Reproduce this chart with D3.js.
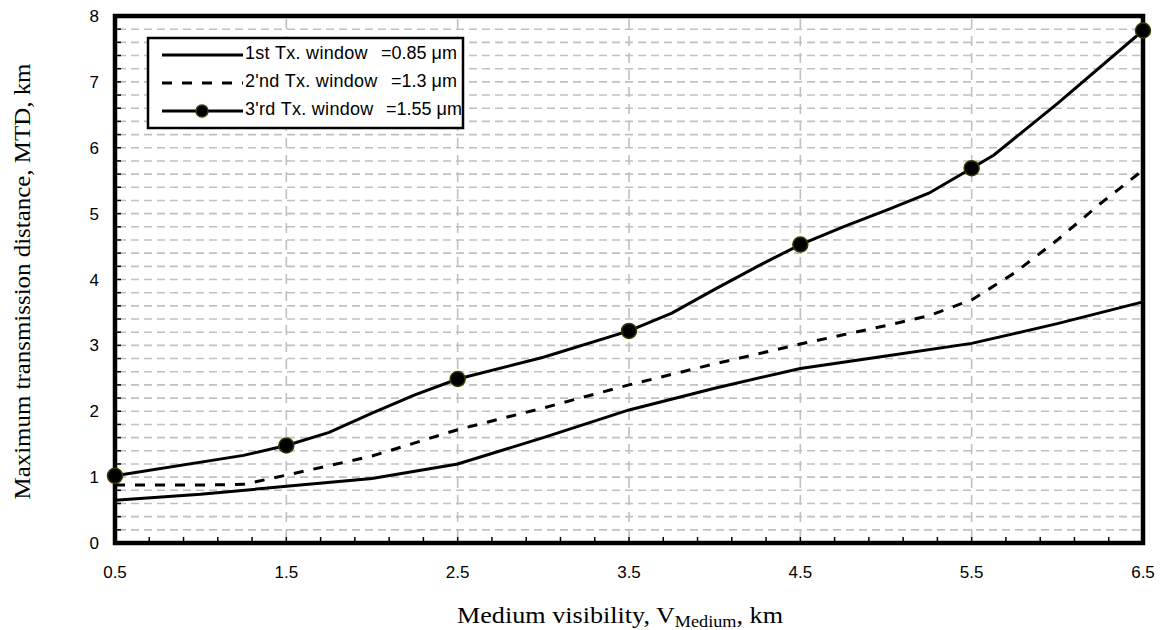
<!DOCTYPE html>
<html>
<head>
<meta charset="utf-8">
<script src="https://cdn.jsdelivr.net/npm/d3@7"></script>
<style>
  body { margin: 0; background: #fff; }
  svg { display: block; }
</style>
</head>
<body>
<svg id="chart" width="1160" height="630"></svg>
<script>
// ---- data ----
let xTicks = [0.5, 1.5, 2.5, 3.5, 4.5, 5.5, 6.5];
let yTicks = [0, 1, 2, 3, 4, 5, 6, 7, 8];

let x1 = [0.5, 1, 1.5, 2, 2.5, 3, 3.5, 4, 4.5, 5, 5.5, 6, 6.5];
let y1 = [0.65, 0.74, 0.86, 0.98, 1.2, 1.6, 2.02, 2.35, 2.65, 2.84, 3.03, 3.33, 3.66];

let x2 = [0.5, 1, 1.25, 1.5, 2, 2.5, 3, 3.5, 4, 4.5, 4.75, 5, 5.25, 5.5, 5.75, 6, 6.25, 6.5];
let y2 = [0.88, 0.88, 0.89, 1.03, 1.32, 1.72, 2.05, 2.4, 2.72, 3.02, 3.16, 3.3, 3.45, 3.69, 4.1, 4.6, 5.15, 5.66];

let x3 = [0.5, 1.25, 1.5, 1.75, 2, 2.25, 2.5, 3, 3.5, 3.75, 4, 4.25, 4.5, 4.75, 5, 5.25, 5.5, 5.63, 6, 6.5];
let y3 = [1.02, 1.33, 1.48, 1.68, 1.97, 2.25, 2.49, 2.82, 3.22, 3.49, 3.85, 4.2, 4.53, 4.8, 5.05, 5.31, 5.69, 5.89, 6.67, 7.78];
let x3Markers = [0.5, 1.5, 2.5, 3.5, 4.5, 5.5, 6.5];

let legendNames = ["1st Tx. window", "2'nd Tx. window", "3'rd Tx. window"];
let legendValues = ["=0.85 μm", "=1.3 μm", "=1.55 μm"];

// ---- layout ----
let plotL = 115, plotR = 1143, plotT = 16, plotB = 543;
let sans = 'Liberation Sans, Arial, sans-serif';
let serif = 'Liberation Serif, Times New Roman, serif';

let svg = d3.select('#chart');

let xScale = d3.scaleLinear().domain([0.5, 6.5]).range([plotL, plotR]);
let yScale = d3.scaleLinear().domain([0, 8]).range([plotB, plotT]);

// horizontal grid every 0.2
let hGrid = d3.range(1, 40).map(i => i * 0.2);
svg.append('g')
    .selectAll('line')
    .data(hGrid)
    .join('line')
    .attr('x1', plotL + 3)
    .attr('x2', plotR - 3)
    .attr('y1', d => yScale(d))
    .attr('y2', d => yScale(d))
    .attr('stroke', '#c0c0c0')
    .attr('stroke-width', 1.6)
    .attr('stroke-dasharray', '8,5');

// vertical grid at major x
svg.append('g')
    .selectAll('line')
    .data(xTicks.slice(1, -1))
    .join('line')
    .attr('x1', d => xScale(d))
    .attr('x2', d => xScale(d))
    .attr('y1', plotT + 3)
    .attr('y2', plotB - 3)
    .attr('stroke', '#c0c0c0')
    .attr('stroke-width', 1.6)
    .attr('stroke-dasharray', '10,7');

// minor ticks (inward)
let xMinor = d3.range(0, 31).map(i => 0.5 + i * 0.2);
svg.append('g')
    .selectAll('line')
    .data(xMinor)
    .join('line')
    .attr('x1', d => xScale(d))
    .attr('x2', d => xScale(d))
    .attr('y1', plotB)
    .attr('y2', plotB - 6)
    .attr('stroke', 'black')
    .attr('stroke-width', 1.5);

svg.append('g')
    .selectAll('line')
    .data(hGrid)
    .join('line')
    .attr('x1', plotL)
    .attr('x2', plotL + 6)
    .attr('y1', d => yScale(d))
    .attr('y2', d => yScale(d))
    .attr('stroke', 'black')
    .attr('stroke-width', 1.5);

// lines
let line = d3.line()
    .x(d => xScale(d[0]))
    .y(d => yScale(d[1]));

let s1 = x1.map((d, i) => [d, y1[i]]);
let s2 = x2.map((d, i) => [d, y2[i]]);
let s3 = x3.map((d, i) => [d, y3[i]]);

svg.append('path')
    .datum(s1)
    .attr('d', line)
    .attr('fill', 'none')
    .attr('stroke', 'black')
    .attr('stroke-width', 3);

svg.append('path')
    .datum(s2)
    .attr('d', line)
    .attr('fill', 'none')
    .attr('stroke', 'black')
    .attr('stroke-width', 3)
    .attr('stroke-dasharray', '10,10');

svg.append('path')
    .datum(s3)
    .attr('d', line)
    .attr('fill', 'none')
    .attr('stroke', 'black')
    .attr('stroke-width', 3);

// frame
svg.append('rect')
    .attr('x', plotL)
    .attr('y', plotT)
    .attr('width', plotR - plotL)
    .attr('height', plotB - plotT)
    .attr('fill', 'none')
    .attr('stroke', 'black')
    .attr('stroke-width', 4.5);

// markers on top
svg.append('g')
    .selectAll('circle')
    .data(s3.filter(d => x3Markers.includes(d[0])))
    .join('circle')
    .attr('cx', d => xScale(d[0]))
    .attr('cy', d => yScale(d[1]))
    .attr('r', 7.5)
    .attr('fill', 'black')
    .attr('stroke', '#3a3a00')
    .attr('stroke-width', 1.5);

// tick labels
svg.append('g')
    .selectAll('text')
    .data(xTicks)
    .join('text')
    .attr('x', d => xScale(d))
    .attr('y', 578)
    .attr('text-anchor', 'middle')
    .attr('font-family', sans)
    .attr('font-size', 17)
    .text(d => d.toFixed(1));

svg.append('g')
    .selectAll('text')
    .data(yTicks)
    .join('text')
    .attr('x', 99)
    .attr('y', d => yScale(d) + 6)
    .attr('text-anchor', 'end')
    .attr('font-family', sans)
    .attr('font-size', 17)
    .text(d => d);

// axis titles
let xTitle = svg.append('text')
    .attr('x', 620)
    .attr('y', 623)
    .attr('text-anchor', 'middle')
    .attr('font-family', serif)
    .attr('font-size', 23)
    .attr('textLength', 326)
    .attr('lengthAdjust', 'spacingAndGlyphs');
xTitle.append('tspan').text('Medium visibility, V');
xTitle.append('tspan').attr('dy', 4).attr('font-size', 16).text('Medium');
xTitle.append('tspan').attr('dy', -4).text(', km');

svg.append('text')
    .attr('transform', `translate(30, ${(plotT + plotB) / 2 + 2}) rotate(-90)`)
    .attr('text-anchor', 'middle')
    .attr('font-family', serif)
    .attr('font-size', 23)
    .attr('textLength', 436)
    .attr('lengthAdjust', 'spacingAndGlyphs')
    .text('Maximum transmission distance, MTD, km');

// legend
let legend = svg.append('g');
legend.append('rect')
    .attr('x', 148)
    .attr('y', 38)
    .attr('width', 315)
    .attr('height', 90)
    .attr('fill', 'white')
    .attr('stroke', 'black')
    .attr('stroke-width', 2.5);

let rowY = [55, 83, 111];
legend.selectAll('.legLine')
    .data(legendNames)
    .join('line')
    .classed('legLine', true)
    .attr('x1', 162)
    .attr('x2', 243)
    .attr('y1', (d, i) => rowY[i])
    .attr('y2', (d, i) => rowY[i])
    .attr('stroke', 'black')
    .attr('stroke-width', 3)
    .attr('stroke-dasharray', (d, i) => i == 1 ? '10,10' : null);

legend.append('circle')
    .attr('cx', 202)
    .attr('cy', rowY[2])
    .attr('r', 6)
    .attr('fill', 'black')
    .attr('stroke', '#3a3a00')
    .attr('stroke-width', 1.5);

legend.selectAll('.legName')
    .data(legendNames)
    .join('text')
    .classed('legName', true)
    .attr('x', 245)
    .attr('y', (d, i) => rowY[i] + 4)
    .attr('font-family', sans)
    .attr('font-size', 18)
    .attr('letter-spacing', 0.3)
    .text(d => d);

let valueX = [381, 391, 386];
legend.selectAll('.legVal')
    .data(legendValues)
    .join('text')
    .classed('legVal', true)
    .attr('x', (d, i) => valueX[i])
    .attr('y', (d, i) => rowY[i] + 4)
    .attr('font-family', sans)
    .attr('font-size', 18)
    .text(d => d);
</script>
</body>
</html>
